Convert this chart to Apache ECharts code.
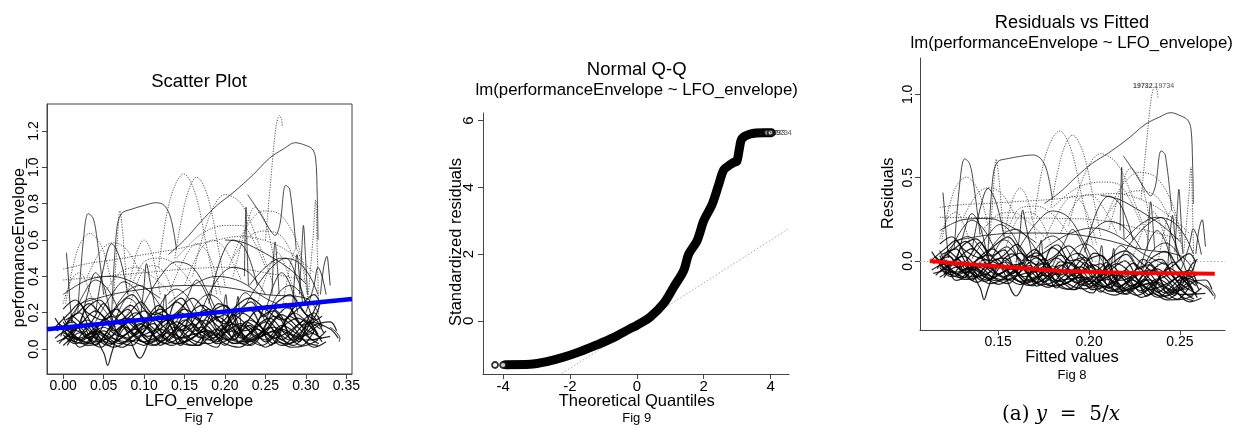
<!DOCTYPE html>
<html><head><meta charset="utf-8">
<script src="https://cdn.jsdelivr.net/npm/echarts@6/dist/echarts.min.js"></script>
<style>html,body{margin:0;padding:0;background:#fff}#c{width:1238px;height:428px}</style>
</head><body><div id="c"></div>
<script>
// ---------- tick labels ----------
const p1XTicks = [0, 0.05, 0.10, 0.15, 0.20, 0.25, 0.30, 0.35];
const p1YTicks = [0, 0.2, 0.4, 0.6, 0.8, 1.0, 1.2];
const p2XTicks = [-4, -2, 0, 2, 4];
const p2YTicks = [0, 2, 4, 6];
const p3XTicks = [0.15, 0.20, 0.25];
const p3YTicks = [0, 0.5, 1.0];

// ---------- Fig 7: LFO_envelope vs performanceEnvelope_ traces ----------
const lowCurves = [
 [[-0.01,0.17],[0.005,0.08],[0.02,0.05],[0.04,0.12],[0.06,0.18],[0.08,0.1],[0.1,0.04],[0.12,0.08],[0.14,0.15],[0.16,0.09],[0.18,0.05],[0.2,0.12],[0.22,0.2],[0.24,0.14],[0.26,0.06],[0.28,0.1],[0.3,0.16],[0.315,0.08]],
 [[-0.005,0.03],[0.01,0.1],[0.03,0.16],[0.05,0.08],[0.07,0.03],[0.09,0.09],[0.11,0.17],[0.13,0.1],[0.15,0.04],[0.17,0.1],[0.19,0.18],[0.21,0.11],[0.23,0.04],[0.25,0.09],[0.27,0.19],[0.29,0.12],[0.31,0.05],[0.325,0.1]],
 [[0.0,0.12],[0.02,0.2],[0.035,0.1],[0.055,0.02],[0.075,0.07],[0.095,0.14],[0.115,0.06],[0.135,0.02],[0.155,0.1],[0.175,0.16],[0.195,0.07],[0.215,0.03],[0.235,0.11],[0.255,0.17],[0.275,0.08],[0.295,0.02],[0.31,0.1]],
 [[0.005,0.06],[0.025,0.03],[0.045,0.14],[0.065,0.22],[0.085,0.13],[0.105,0.07],[0.125,0.13],[0.145,0.2],[0.165,0.12],[0.185,0.06],[0.205,0.15],[0.225,0.07],[0.245,0.02],[0.265,0.09],[0.285,0.2],[0.305,0.13],[0.32,0.04]],
 [[-0.008,0.1],[0.012,0.15],[0.03,0.06],[0.05,0.1],[0.065,0.05],[0.085,0.02],[0.1,0.1],[0.12,0.19],[0.14,0.08],[0.16,0.02],[0.18,0.09],[0.2,0.05],[0.22,0.1],[0.24,0.21],[0.26,0.13],[0.28,0.03],[0.3,0.08],[0.318,0.14]],
 [[0.0,0.08],[0.015,0.03],[0.035,0.07],[0.05,-0.02],[0.055,-0.09],[0.06,-0.02],[0.07,0.1],[0.09,0.2],[0.11,0.12],[0.13,0.05],[0.15,0.13],[0.17,0.06],[0.19,0.11],[0.21,0.03],[0.23,0.08],[0.25,0.15],[0.27,0.05],[0.29,0.13],[0.31,0.2],[0.32,0.12]],
 [[0.01,0.19],[0.03,0.11],[0.045,0.05],[0.06,0.13],[0.08,0.17],[0.1,0.06],[0.115,0.02],[0.13,0.12],[0.15,0.22],[0.17,0.15],[0.19,0.03],[0.21,0.07],[0.23,0.16],[0.25,0.1],[0.27,0.02],[0.29,0.06],[0.305,0.15],[0.33,0.11],[0.34,0.06]],
 [[0.0,0.05],[0.02,0.13],[0.04,0.21],[0.06,0.12],[0.08,0.06],[0.1,0.13],[0.12,0.04],[0.14,0.11],[0.16,0.18],[0.18,0.12],[0.2,0.02],[0.22,0.13],[0.24,0.07],[0.26,0.18],[0.28,0.14],[0.3,0.04],[0.315,0.02]],
 [[-0.005,0.14],[0.015,0.07],[0.035,0.03],[0.055,0.15],[0.075,0.12],[0.095,-0.05],[0.11,0.08],[0.13,0.16],[0.15,0.1],[0.17,0.2],[0.19,0.13],[0.21,0.05],[0.23,0.13],[0.25,0.04],[0.27,0.12],[0.29,0.17],[0.31,0.1]],
 [[0.005,0.02],[0.02,0.09],[0.04,0.04],[0.06,0.07],[0.08,0.15],[0.1,0.21],[0.12,0.1],[0.14,0.03],[0.16,0.06],[0.18,0.14],[0.2,0.19],[0.22,0.06],[0.24,0.11],[0.26,0.03],[0.28,0.18],[0.3,0.11],[0.32,0.06]],
 [[0.0,0.15],[0.02,0.05],[0.04,0.09],[0.06,0.04],[0.08,0.09],[0.1,0.15],[0.12,0.22],[0.14,0.13],[0.16,0.05],[0.18,0.03],[0.2,0.09],[0.22,0.14],[0.24,0.06],[0.26,0.1],[0.28,0.05],[0.3,0.12],[0.32,0.18]],
 [[0.01,0.1],[0.03,0.02],[0.05,0.05],[0.07,0.16],[0.09,0.07],[0.11,0.02],[0.13,0.07],[0.15,0.16],[0.17,0.08],[0.19,0.04],[0.21,0.19],[0.23,0.12],[0.25,0.05],[0.27,0.13],[0.29,0.08],[0.31,0.01],[0.325,0.04]],
 [[-0.01,0.06],[0.01,0.11],[0.03,0.08],[0.05,0.12],[0.07,0.07],[0.09,0.11],[0.11,0.05],[0.13,0.09],[0.15,0.06],[0.17,0.12],[0.19,0.08],[0.21,0.1],[0.23,0.05],[0.25,0.08],[0.27,0.11],[0.29,0.07],[0.31,0.09]],
 [[0.0,0.09],[0.02,0.06],[0.04,0.1],[0.06,0.06],[0.08,0.04],[0.1,0.08],[0.12,0.11],[0.14,0.06],[0.16,0.08],[0.18,0.1],[0.2,0.06],[0.22,0.04],[0.24,0.08],[0.26,0.12],[0.28,0.08],[0.3,0.05],[0.33,0.07]],
 [[0.0,0.18],[0.012,0.1],[0.022,0.14],[0.04,0.02],[0.052,0.08],[0.07,0.19],[0.083,0.24],[0.1,0.16],[0.11,0.09],[0.125,0.03],[0.145,0.07],[0.158,0.2],[0.172,0.24],[0.19,0.17],[0.205,0.08],[0.228,0.02],[0.24,0.06],[0.262,0.22],[0.275,0.25],[0.29,0.16],[0.305,0.06],[0.316,0.03]],
 [[-0.01,0.12],[0.008,0.2],[0.02,0.25],[0.03,0.18],[0.043,0.07],[0.06,0.03],[0.078,0.12],[0.09,0.08],[0.105,0.18],[0.118,0.24],[0.135,0.14],[0.148,0.03],[0.167,0.02],[0.18,0.17],[0.192,0.25],[0.21,0.2],[0.222,0.1],[0.238,0.13],[0.252,0.24],[0.27,0.18],[0.283,0.05],[0.3,0.1],[0.312,0.23],[0.32,0.27]],
 [[0.005,0.04],[0.018,0.12],[0.028,0.22],[0.045,0.27],[0.058,0.2],[0.068,0.08],[0.088,0.04],[0.1,0.02],[0.117,0.13],[0.13,0.19],[0.143,0.1],[0.16,0.14],[0.175,0.04],[0.19,0.01],[0.2,0.09],[0.215,0.17],[0.23,0.22],[0.245,0.12],[0.257,0.02],[0.273,0.14],[0.29,0.24],[0.3,0.19],[0.315,0.07]],
 [[0.0,0.02],[0.015,0.06],[0.03,0.03],[0.042,0.1],[0.055,0.05],[0.073,0.01],[0.09,0.05],[0.105,0.03],[0.12,0.06],[0.138,0.12],[0.152,0.06],[0.168,0.02],[0.185,0.08],[0.2,0.03],[0.218,0.01],[0.235,0.05],[0.25,0.01],[0.265,0.04],[0.282,0.01],[0.3,0.02],[0.315,0.05]],
 [[-0.003,0.07],[0.01,0.16],[0.025,0.09],[0.038,0.17],[0.05,0.25],[0.065,0.18],[0.08,0.22],[0.092,0.12],[0.108,0.04],[0.125,0.1],[0.14,0.26],[0.155,0.2],[0.165,0.1],[0.18,0.19],[0.2,0.24],[0.215,0.13],[0.232,0.02],[0.248,0.09],[0.26,0.16],[0.278,0.23],[0.295,0.13],[0.31,0.17],[0.318,0.26]],
 [[0.002,0.1],[0.014,0.04],[0.032,0.13],[0.048,0.05],[0.062,0.01],[0.078,0.04],[0.095,0.1],[0.112,0.14],[0.127,0.05],[0.142,0.03],[0.158,0.06],[0.176,0.1],[0.188,0.05],[0.206,0.11],[0.22,0.03],[0.236,0.06],[0.255,0.12],[0.268,0.06],[0.285,0.02],[0.297,0.07],[0.31,0.13],[0.33,0.15],[0.338,0.1]],
 [[0.0,0.22],[0.015,0.27],[0.03,0.2],[0.05,0.16],[0.07,0.25],[0.085,0.3],[0.1,0.22],[0.12,0.15],[0.14,0.2],[0.16,0.28],[0.175,0.22],[0.195,0.15],[0.21,0.22],[0.23,0.28],[0.25,0.22],[0.27,0.16],[0.29,0.22],[0.31,0.3],[0.318,0.25]],
 [[0.008,0.13],[0.02,0.01],[0.035,0.05],[0.05,0.16],[0.063,0.1],[0.082,0.15],[0.098,0.09],[0.113,0.2],[0.128,0.17],[0.145,0.02],[0.162,0.11],[0.178,0.21],[0.193,0.1],[0.21,0.14],[0.228,0.06],[0.243,0.17],[0.26,0.21],[0.276,0.11],[0.292,0.04],[0.306,0.19],[0.322,0.09]],
 [[-0.008,0.04],[0.006,0.07],[0.02,0.12],[0.034,0.04],[0.047,0.01],[0.058,0.06],[0.074,0.13],[0.092,0.07],[0.106,0.12],[0.12,0.02],[0.136,0.08],[0.15,0.18],[0.166,0.16],[0.182,0.07],[0.196,0.13],[0.212,0.05],[0.226,0.15],[0.244,0.1],[0.258,0.07],[0.274,0.03],[0.288,0.09],[0.302,0.15],[0.318,0.11]],
 [[0.003,0.16],[0.018,0.2],[0.032,0.25],[0.047,0.19],[0.064,0.14],[0.08,0.19],[0.096,0.26],[0.112,0.19],[0.128,0.22],[0.146,0.28],[0.162,0.19],[0.18,0.22],[0.198,0.14],[0.214,0.2],[0.232,0.26],[0.248,0.18],[0.265,0.26],[0.28,0.3],[0.298,0.2],[0.312,0.16]]
];
const midCurves = [
 [[0.004,0.53],[0.006,0.42],[0.008,0.28],[0.011,0.14]],
 [[0.01,0.15],[0.025,0.3],[0.04,0.38],[0.055,0.33],[0.07,0.2]],
 [[0.04,0.15],[0.06,0.3],[0.075,0.37],[0.09,0.32],[0.105,0.18]],
 [[0.095,0.15],[0.1,0.35],[0.103,0.47],[0.107,0.38],[0.115,0.2]],
 [[0.1,0.25],[0.12,0.4],[0.14,0.48],[0.16,0.45],[0.18,0.3],[0.19,0.2]],
 [[0.17,0.2],[0.19,0.38],[0.21,0.45],[0.23,0.42],[0.25,0.3]],
 [[0.22,0.2],[0.24,0.35],[0.26,0.46],[0.275,0.5],[0.29,0.38],[0.3,0.25]],
 [[0.283,0.2],[0.287,0.45],[0.289,0.52],[0.292,0.4],[0.296,0.25]],
 [[0.318,0.3],[0.322,0.45],[0.326,0.51],[0.328,0.45],[0.33,0.35]],
 [[0.0,0.3],[0.03,0.38],[0.06,0.4],[0.09,0.36],[0.12,0.28]],
 [[0.13,0.25],[0.16,0.35],[0.19,0.4],[0.22,0.37],[0.25,0.28],[0.28,0.22]],
 [[0.02,0.25],[0.06,0.3],[0.1,0.33],[0.15,0.35],[0.2,0.34],[0.25,0.3],[0.3,0.28],[0.315,0.2]],
 [[0.15,0.1],[0.165,0.25],[0.18,0.3],[0.195,0.26],[0.21,0.12]],
 [[0.2,0.1],[0.215,0.25],[0.225,0.31],[0.235,0.27],[0.25,0.15]],
 [[0.06,0.1],[0.07,0.22],[0.08,0.28],[0.09,0.25],[0.1,0.12]],
 [[0.23,0.35],[0.25,0.45],[0.27,0.5],[0.29,0.48],[0.305,0.4],[0.315,0.3]],
 [[0.04,0.2],[0.05,0.45],[0.06,0.58],[0.07,0.5],[0.08,0.3]],
 [[0.18,0.25],[0.195,0.5],[0.21,0.6],[0.225,0.55],[0.24,0.35]],
 [[0.2,0.6],[0.22,0.59],[0.24,0.55],[0.26,0.5],[0.28,0.44],[0.3,0.36]],
 [[0.11,0.15],[0.125,0.28],[0.14,0.33],[0.155,0.28],[0.17,0.15]],
 [[0.25,0.15],[0.265,0.3],[0.28,0.35],[0.295,0.3],[0.31,0.15]],
 [[0.005,0.15],[0.02,0.24],[0.035,0.28],[0.05,0.22],[0.065,0.12]],
 [[0.121,0.1],[0.124,0.25],[0.126,0.3],[0.128,0.2],[0.131,0.08]],
 [[0.196,0.08],[0.199,0.25],[0.201,0.3],[0.203,0.22],[0.206,0.08]],
 [[0.212,0.1],[0.214,0.22],[0.216,0.29],[0.218,0.2],[0.221,0.08]],
 [[0.33,0.12],[0.336,0.1],[0.34,0.08],[0.342,0.06],[0.341,0.04]],
 [[0.02,0.1],[0.03,0.3],[0.04,0.42],[0.05,0.35],[0.06,0.15]],
 [[0.14,0.15],[0.155,0.3],[0.165,0.38],[0.175,0.32],[0.19,0.15]],
 [[0.25,0.2],[0.26,0.35],[0.27,0.42],[0.28,0.36],[0.29,0.2]],
 [[0.3,0.2],[0.31,0.35],[0.315,0.45],[0.32,0.4],[0.325,0.3]],
 [[0.06,0.2],[0.08,0.32],[0.095,0.35],[0.11,0.3],[0.125,0.2]]
];
const upperSolidCurves = [
 [[0.13,0.52],[0.15,0.6],[0.17,0.7],[0.19,0.79],[0.21,0.86],[0.235,0.96],[0.255,1.05],[0.272,1.1],[0.287,1.135],[0.3,1.12],[0.308,1.1],[0.312,1.05],[0.314,0.85],[0.315,0.6]],
 [[0.018,0.2],[0.025,0.6],[0.031,0.745],[0.037,0.72],[0.042,0.6],[0.05,0.3]],
 [[0.06,0.2],[0.066,0.65],[0.072,0.745],[0.085,0.77],[0.1,0.79],[0.115,0.805],[0.125,0.79],[0.133,0.72],[0.14,0.55]],
 [[0.228,0.85],[0.243,0.75],[0.255,0.66],[0.262,0.625],[0.268,0.69],[0.275,0.9],[0.28,0.88],[0.288,0.55]],
 [[0.224,0.4],[0.225,0.65],[0.226,0.78],[0.227,0.6],[0.229,0.35]],
 [[0.292,0.3],[0.295,0.55],[0.297,0.68],[0.299,0.55],[0.302,0.3]],
 [[0.258,0.3],[0.26,0.5],[0.262,0.59],[0.264,0.5],[0.267,0.3]]
];
const upperDottedCurves = [
 [[0.25,0.6],[0.257,0.95],[0.263,1.22],[0.2675,1.285],[0.27,1.26],[0.271,1.22]],
 [[0.118,0.45],[0.132,0.82],[0.149,0.964],[0.163,0.86],[0.178,0.55],[0.19,0.3]],
 [[0.138,0.5],[0.152,0.83],[0.165,0.946],[0.178,0.85],[0.192,0.55],[0.2,0.35]],
 [[0.003,0.25],[0.018,0.55],[0.033,0.636],[0.048,0.56],[0.06,0.35]],
 [[0.062,0.25],[0.067,0.6],[0.07,0.76],[0.074,0.62],[0.079,0.3]],
 [[0.205,0.45],[0.225,0.66],[0.248,0.76],[0.268,0.74],[0.288,0.6],[0.3,0.4]],
 [[0.303,0.3],[0.309,0.62],[0.312,0.82],[0.314,0.55],[0.316,0.15]],
 [[0.16,0.4],[0.18,0.72],[0.2,0.85],[0.22,0.8],[0.24,0.6],[0.26,0.35]],
 [[0.0,0.44],[0.03,0.47],[0.06,0.49],[0.1,0.52],[0.14,0.55],[0.18,0.59],[0.22,0.62],[0.26,0.58],[0.29,0.5],[0.31,0.42]],
 [[0.03,0.4],[0.048,0.55],[0.062,0.585],[0.078,0.55],[0.095,0.42]],
 [[0.14,0.5],[0.17,0.63],[0.2,0.68],[0.22,0.68],[0.235,0.6],[0.25,0.45]],
 [[0.21,0.4],[0.225,0.65],[0.237,0.78],[0.25,0.7],[0.262,0.45]],
 [[0.08,0.3],[0.09,0.52],[0.1,0.6],[0.11,0.52],[0.12,0.3]],
 [[0.0,0.25],[0.01,0.38],[0.02,0.42],[0.03,0.35],[0.04,0.2]],
 [[0.08,0.2],[0.095,0.4],[0.11,0.46],[0.125,0.42],[0.14,0.25]],
 [[0.13,0.3],[0.15,0.5],[0.165,0.58],[0.18,0.52],[0.195,0.3]],
 [[0.24,0.25],[0.255,0.45],[0.265,0.53],[0.275,0.45],[0.29,0.25]],
 [[0.27,0.2],[0.28,0.45],[0.288,0.55],[0.296,0.45],[0.305,0.2]],
 [[0.05,0.3],[0.07,0.42],[0.09,0.45],[0.11,0.4],[0.13,0.32]],
 [[0.0,0.38],[0.05,0.4],[0.1,0.42],[0.15,0.44],[0.2,0.45],[0.25,0.42],[0.3,0.38]],
 [[0.15,0.35],[0.17,0.55],[0.185,0.6],[0.2,0.55],[0.22,0.38]],
 [[0.21,0.5],[0.23,0.62],[0.25,0.65],[0.27,0.62],[0.285,0.5]],
 [[0.085,0.35],[0.1,0.48],[0.12,0.5],[0.14,0.46],[0.16,0.35]]
];
// fitted regression line (blue), read at the plot edges
const blueLineX = [-0.02, 0.357];
const blueLineY = [0.109, 0.276];

// ---------- Fig 9: Normal Q-Q ----------
const qqTheo   = [-3.93,-3.19,-2.69,-2.2,-1.7,-1.2,-0.7,-0.2,0,0.4,0.8,1.1,1.4,1.55,1.8,2.0,2.25,2.45,2.6,2.79,2.9,2.99,3.07,3.14,3.39,3.79,4.02];
const qqSample = [-1.31,-1.30,-1.22,-1.09,-0.92,-0.72,-0.50,-0.23,-0.13,0.12,0.52,1.01,1.51,2.0,2.40,3.0,3.49,4.09,4.53,4.68,4.75,4.78,5.18,5.46,5.60,5.64,5.64];
const qqEndX = [-4.24, -4.0, 3.9, 4.0];
const qqEndY = [-1.32, -1.32, 5.64, 5.64];
const qqLineX = [-2.23, 4.55];
const qqLineY = [-1.57, 2.77];
const qqLabelNames = ['19732', '19733', '19734'];
const qqLabelX = [3.62, 3.82, 4.02];
const qqLabelY = [5.64, 5.64, 5.64];

// ---------- Fig 8: Residuals vs Fitted ----------
const redX = [0.1124,0.1344,0.1529,0.1711,0.182,0.1986,0.2261,0.2692];
const redY = [0.0,-0.02,-0.034,-0.05,-0.058,-0.064,-0.072,-0.076];
const p3LabelNames = ['19732', '19734'];
const p3LabelX = [0.2355, 0.2355];
const p3LabelY = [1.05, 1.05];

// ---------- build ----------
const FONT = '"Liberation Sans", Arial, sans-serif';
const fitB1 = (blueLineY[1] - blueLineY[0]) / (blueLineX[1] - blueLineX[0]);
const fitB0 = blueLineY[0] - fitB1 * blueLineX[0];
const toResid = c => c.map(p => { const f = fitB0 + fitB1 * p[0]; return [f, p[1] - f]; });
const zip = (a, b) => a.map((v, i) => [v, b[i]]);

const series = [];
function addCurves(list, lineStyle) {
  list.forEach(c => {
    [[0, c], [2, toResid(c)]].forEach(([g, d]) => {
      series.push({type: 'line', xAxisIndex: g, yAxisIndex: g, data: d, smooth: 0.35,
        symbol: 'none', silent: true, z: 2, lineStyle: lineStyle});
    });
  });
}
addCurves(upperDottedCurves, {color: 'rgba(60,60,60,0.85)', width: 1, type: [1.2, 1.4]});
addCurves(upperSolidCurves, {color: 'rgba(30,30,30,0.8)', width: 1});
addCurves(midCurves, {color: 'rgba(10,10,10,0.8)', width: 1});
addCurves(lowCurves, {color: 'rgba(0,0,0,0.85)', width: 1.2});

series.push({type: 'line', xAxisIndex: 0, yAxisIndex: 0, data: zip(blueLineX, blueLineY),
  symbol: 'none', silent: true, z: 5, lineStyle: {color: '#0000ff', width: 4.5}});

series.push({type: 'line', xAxisIndex: 1, yAxisIndex: 1, data: zip(qqLineX, qqLineY),
  symbol: 'none', silent: true, z: 2, lineStyle: {color: '#aaa', width: 1, type: [1.5, 2]}});
series.push({type: 'line', xAxisIndex: 1, yAxisIndex: 1, data: zip(qqTheo, qqSample),
  smooth: 0.3, symbol: 'none', silent: true, z: 3, lineStyle: {color: '#000', width: 9, cap: 'round', join: 'round'}});
series.push({type: 'scatter', xAxisIndex: 1, yAxisIndex: 1, data: zip(qqEndX, qqEndY),
  symbol: 'circle', symbolSize: 6, silent: true, z: 4,
  itemStyle: {color: '#fff', borderColor: '#000', borderWidth: 1.8}});
series.push({type: 'scatter', xAxisIndex: 1, yAxisIndex: 1, symbolSize: 0, silent: true, z: 6,
  data: qqLabelNames.map((n, i) => ({name: n, value: [qqLabelX[i], qqLabelY[i]]})),
  label: {show: true, position: 'right', distance: 1, formatter: '{b}', fontSize: 7, color: '#222', fontFamily: FONT}});

series.push({type: 'line', xAxisIndex: 2, yAxisIndex: 2, data: zip(redX, redY),
  smooth: 0.3, symbol: 'none', silent: true, z: 5, lineStyle: {color: '#ff0000', width: 4},
  markLine: {silent: true, symbol: 'none', label: {show: false},
    lineStyle: {color: '#aaa', width: 1, type: [1.5, 2]}, data: [{yAxis: 0}]}});
series.push({type: 'scatter', xAxisIndex: 2, yAxisIndex: 2, symbolSize: 0, silent: true, z: 6,
  data: p3LabelNames.map((n, i) => ({name: n, value: [p3LabelX[i], p3LabelY[i]],
    label: {position: i === 0 ? 'left' : 'right', fontWeight: i === 0 ? 'bold' : 'normal'}})),
  label: {show: true, distance: 1, formatter: '{b}', fontSize: 7, color: '#222', fontFamily: FONT}});

function xAx(g, min, max, ticks, dec, fs, margin) {
  return {type: 'value', gridIndex: g, min, max,
    axisLine: {show: true, onZero: false, lineStyle: {color: '#444', width: 1}},
    axisTick: {show: true, length: 5, customValues: ticks, lineStyle: {color: '#444'}},
    axisLabel: {show: true, customValues: ticks, formatter: v => v.toFixed(dec), color: '#000',
      fontSize: fs, margin, fontFamily: FONT},
    splitLine: {show: false}};
}
function yAx(g, min, max, ticks, dec, fs, margin) {
  const a = xAx(g, min, max, ticks, dec, fs, margin);
  a.axisLabel.rotate = 90;
  return a;
}

function txt(x, y, text, size, rot) {
  return {type: 'text', x, y, rotation: rot ? Math.PI / 2 : 0, silent: true,
    style: {text, fontSize: size, fontFamily: FONT, fill: '#000', align: 'center', verticalAlign: 'middle'}};
}

const option = {
  animation: false,
  backgroundColor: '#fff',
  grid: [
    {left: 47, top: 104, width: 305, height: 270, show: true, borderColor: '#444', borderWidth: 1, containLabel: false},
    {left: 483, top: 113, width: 306, height: 261, containLabel: false},
    {left: 920, top: 58, width: 305, height: 272, containLabel: false}
  ],
  xAxis: [
    xAx(0, -0.02, 0.357, p1XTicks, 2, 14, 5),
    xAx(1, -4.6, 4.55, p2XTicks, 0, 15, 5),
    xAx(2, 0.107, 0.2748, p3XTicks, 2, 14, 5)
  ],
  yAxis: [
    yAx(0, -0.137, 1.348, p1YTicks, 1, 14, 6),
    yAx(1, -1.59, 6.23, p2YTicks, 0, 15, 7),
    yAx(2, -0.414, 1.218, p3YTicks, 1, 14, 5)
  ],
  series,
  graphic: [
    txt(199, 82, 'Scatter Plot', 18.5),
    txt(199, 401, 'LFO_envelope', 16.5),
    txt(199, 418, 'Fig 7', 13),
    txt(20, 243, 'performanceEnvelope_', 16.3, true),
    txt(636.7, 70, 'Normal Q-Q', 18.5),
    txt(636.7, 90, 'lm(performanceEnvelope ~ LFO_envelope)', 16.8),
    txt(636.7, 401.5, 'Theoretical Quantiles', 16.5),
    txt(636.7, 418, 'Fig 9', 13),
    txt(456.7, 242, 'Standardized residuals', 16.5, true),
    txt(1072, 23, 'Residuals vs Fitted', 18.3),
    txt(1071.7, 43, 'lm(performanceEnvelope ~ LFO_envelope)', 16.8),
    txt(1072, 357, 'Fitted values', 16.5),
    txt(1072, 375, 'Fig 8', 13),
    txt(888.3, 193.3, 'Residuals', 16.3, true),
    {type: 'text', x: 1061, y: 415, silent: true,
      style: {text: '(a) {i|y}  =  5/{i|x}', fontSize: 20, fontFamily: '"DejaVu Serif", serif', fill: '#000',
        align: 'center', verticalAlign: 'middle',
        rich: {i: {fontStyle: 'italic', fontSize: 20, fontFamily: '"DejaVu Serif", serif'}}}}
  ]
};
const chart = echarts.init(document.getElementById('c'), null, {renderer: 'canvas'});
chart.setOption(option);
</script>
</body></html>
